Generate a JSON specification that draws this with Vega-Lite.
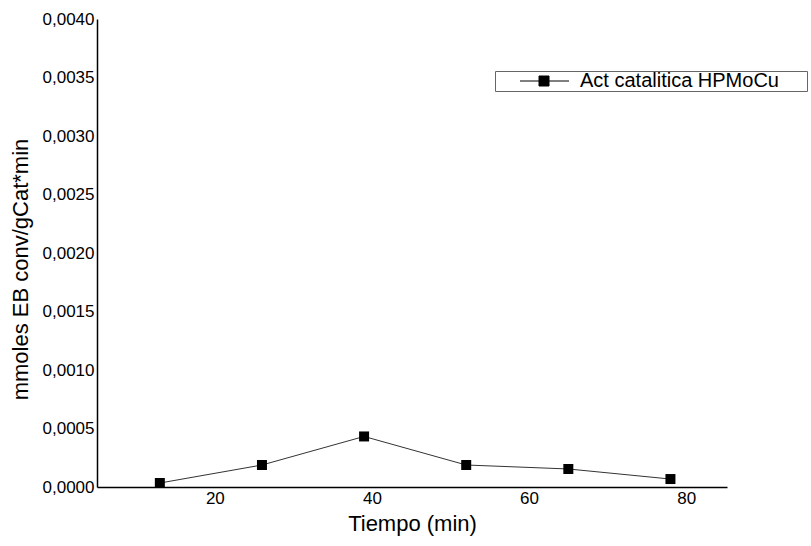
{
  "$schema": "https://vega.github.io/schema/vega-lite/v6.json",
  "width": 630,
  "height": 468,
  "autosize": "none",
  "padding": {"left": 97, "top": 19, "right": 84, "bottom": 59},
  "background": "white",
  "config": {
    "view": {"stroke": null},
    "font": "Liberation Sans",
    "axis": {"grid": false, "ticks": false, "domainColor": "black", "domainWidth": 1.5, "labelColor": "black", "titleColor": "black", "labelFont": "Liberation Sans", "titleFont": "Liberation Sans", "titleFontWeight": "normal"}
  },
  "data": {"values": [
    {"t": 13, "act": 0.000034, "series": "Act catalitica HPMoCu"},
    {"t": 26, "act": 0.000188, "series": "Act catalitica HPMoCu"},
    {"t": 39, "act": 0.000432, "series": "Act catalitica HPMoCu"},
    {"t": 52, "act": 0.000188, "series": "Act catalitica HPMoCu"},
    {"t": 65, "act": 0.000154, "series": "Act catalitica HPMoCu"},
    {"t": 78, "act": 0.000068, "series": "Act catalitica HPMoCu"}
  ]},
  "encoding": {
    "x": {"field": "t", "type": "quantitative", "scale": {"domain": [5, 85.2], "nice": false, "zero": false},
      "axis": {"values": [20, 40, 60, 80], "labelFontSize": 17, "labelPadding": 3, "title": "Tiempo (min)", "titleFontSize": 22, "titlePadding": 7}},
    "y": {"field": "act", "type": "quantitative", "scale": {"domain": [0, 0.004], "nice": false},
      "axis": {"values": [0, 0.0005, 0.001, 0.0015, 0.002, 0.0025, 0.003, 0.0035, 0.004], "labelExpr": "replace(format(datum.value, '.4f'), '.', ',')", "labelFontSize": 17, "labelPadding": 3, "title": "mmoles EB conv/gCat*min", "titleFontSize": 22, "titleX": -77, "titleY": 250, "titleAlign": "center", "titleBaseline": "middle", "titleAngle": 270}}
  },
  "layer": [
    {"mark": {"type": "line", "color": "#333333", "strokeWidth": 1}},
    {"mark": {"type": "point", "shape": "square", "filled": true, "size": 100, "opacity": 1},
      "encoding": {
        "color": {"field": "series", "type": "nominal", "scale": {"range": ["black"]},
          "legend": {"title": null, "orient": "none", "legendX": 398, "legendY": 52, "strokeColor": "#666666", "padding": 0,
            "symbolType": "M1.875,0H8M4.25,-0.625H5.5V0.625H4.25Z", "symbolSize": 256, "symbolFillColor": "black", "symbolStrokeColor": "black", "symbolStrokeWidth": 1, "symbolOpacity": 1,
            "labelFontSize": 20, "labelColor": "black", "labelOffset": 65, "labelFont": "Liberation Sans", "labelLimit": 400,
            "labelExpr": "datum.label + '     \u200b'"}}
      }}
  ]
}
